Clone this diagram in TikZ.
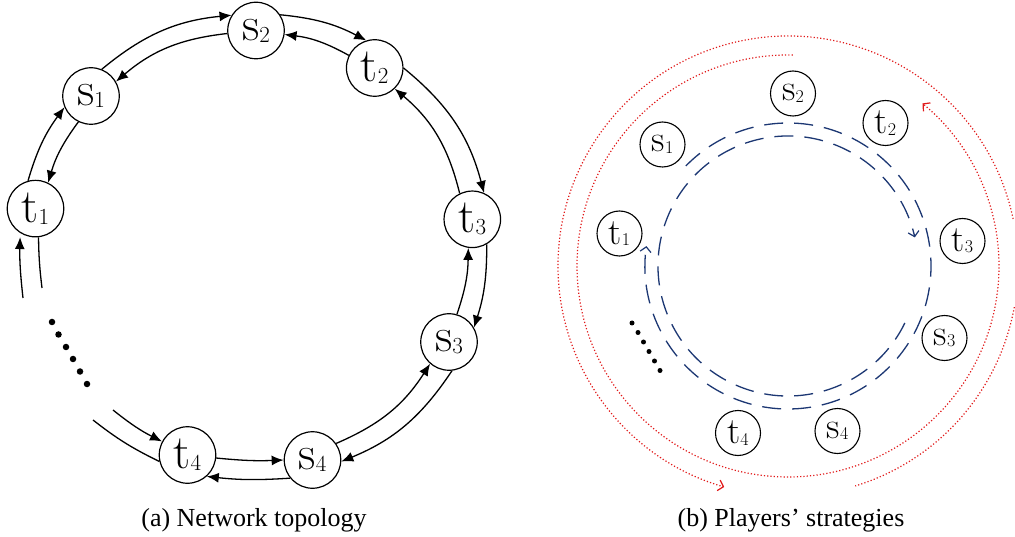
\documentclass[tikz,border=0pt]{standalone}
\usepackage{fontspec}
\newfontfamily\capfont{Liberation Serif}
\usetikzlibrary{arrows.meta}
\definecolor{navy}{RGB}{28,55,115}
\definecolor{dred}{RGB}{225,25,25}
\newcommand\biglab[2]{{\fontsize{48}{48}\selectfont #1}\raisebox{-2pt}{\fontsize{23}{23}\selectfont #2}}
\newcommand\smalllab[2]{{\fontsize{37}{37}\selectfont #1}\raisebox{-1.5pt}{\fontsize{18}{18}\selectfont #2}}
\begin{document}
\begin{tikzpicture}[x=1pt,y=1pt,
  bignode/.style={circle,draw,line width=1.2pt,minimum size=56.5pt,inner sep=0pt},
  smallnode/.style={circle,draw,line width=1.1pt,minimum size=45pt,inner sep=0pt},
  arr/.style={-{Latex[length=12pt,width=10pt]},line width=1.3pt},
  ln/.style={line width=1.3pt},
  bluepath/.style={draw=navy,line width=1.3pt,dash pattern=on 19pt off 11pt,-{Straight Barb[length=5pt,width=11pt,line width=1.2pt]}},
  redpath/.style={draw=dred,line width=1.2pt,dash pattern=on 1.2pt off 2.1pt},
  redarrow/.style={-{Straight Barb[length=5pt,width=11pt,line width=1.2pt]}},
  dotmark/.style={fill=black,draw=none,circle,inner sep=0pt,minimum size=6.5pt},
  dotsmall/.style={fill=black,draw=none,circle,inner sep=0pt,minimum size=5pt},
  caption/.style={font=\capfont\fontsize{26}{26}\selectfont,anchor=base}]
\useasboundingbox (0,0) rectangle (1015,-537);

% ---------- (a) Network topology ----------
\node[bignode] (s2) at (256,-30.5) {\biglab{s}{2}};
\node[bignode] (t2) at (374.7,-68) {\biglab{t}{2}};
\node[bignode] (s1) at (91,-96) {\biglab{s}{1}};
\node[bignode] (t1) at (35.5,-208.6) {\biglab{t}{1}};
\node[bignode] (t3) at (472.3,-219.3) {\biglab{t}{3}};
\node[bignode] (s3) at (449,-342) {\biglab{s}{3}};
\node[bignode] (s4) at (312.5,-460) {\biglab{s}{4}};
\node[bignode] (t4) at (187.5,-455) {\biglab{t}{4}};

\coordinate (a1) at (23,-298);
\coordinate (a2) at (42,-288);
\coordinate (a3) at (93,-420);
\coordinate (a4) at (113,-410);

% s1 - s2
\draw[arr] (s1.68) to[bend left=17] (s2.148);
\draw[arr] (s2.186) to[bend right=17] (s1.30);
% t1 - s1
\draw[arr] (t1.105) to[bend left=10] (s1.203);
\draw[arr] (s1.244) to[bend right=10] (t1.64);
% s2 - t2
\draw[arr] (s2.33) to[bend left=11] (t2.107);
\draw[arr] (t2.154) to[bend right=11] (s2.-8);
% t2 - t3
\draw[arr] (t2.0) to[bend left=18] (t3.66);
\draw[arr] (t3.116) to[bend right=18] (t2.-46);
% t3 - s3
\draw[arr] (t3.-60) to[bend left=9] (s3.30);
\draw[arr] (s3.74) to[bend right=9] (t3.-98);
% s3 - s4
\draw[arr] (s3.-84) to[bend left=17] (s4.-3);
\draw[arr] (s4.35) to[bend right=17] (s3.229);
% t4 - s4
\draw[arr] (t4.-6) to[bend right=4] (s4.180);
\draw[arr] (s4.219) to[bend left=5] (t4.-48);
% t4 - left free ends
\draw[arr] (a4) to[bend right=6] (t4.152);
\draw[ln] (t4.193) to[bend left=6] (a3);
% t1 - lower free ends
\draw[arr,shorten >=4pt] (a1) to[bend left=4] (t1.238);
\draw[ln] (t1.-84) to[bend right=3] (a2);

% dots
\foreach \x/\y [count=\i] in {52/322,58.5/334.5,66/347,73/359,80/371.5,87/384}
  \node[dotmark] (ld\i) at (\x,-\y) {};

\node[caption] (capa) at (254,-526) {(a) Network topology};

% ---------- (b) Players' strategies ----------
\coordinate (O) at (788,-266);

\draw[redpath,redarrow] ([shift={(88.7:211)}]O) arc[start angle=88.7,end angle=410.4,radius=211];
\draw[redpath,redarrow] ([shift={(11.8:230)}]O) arc[start angle=11.8,end angle=253.9,radius=230];
\draw[redpath] ([shift={(-10.3:230)}]O) arc[start angle=-10.3,end angle=-73,radius=230];

\draw[bluepath] ([shift={(135.6:143)}]O) arc[start angle=135.6,end angle=-188,radius=143];
\draw[bluepath] ([shift={(-26:130)}]O) arc[start angle=-26,end angle=-347.3,radius=130];

\node[smallnode] (rs2) at (793,-93.5) {\smalllab{s}{2}};
\node[smallnode] (rt2) at (885.5,-123) {\smalllab{t}{2}};
\node[smallnode] (rs1) at (662.5,-144.5) {\smalllab{s}{1}};
\node[smallnode] (rt1) at (619.5,-233.5) {\smalllab{t}{1}};
\node[smallnode] (rt3) at (962.5,-241) {\smalllab{t}{3}};
\node[smallnode] (rs3) at (944.5,-338) {\smalllab{s}{3}};
\node[smallnode] (rs4) at (837.5,-431) {\smalllab{s}{4}};
\node[smallnode] (rt4) at (738,-433) {\smalllab{t}{4}};

\foreach \x/\y [count=\i] in {632/323,638/332.5,643.5/342,649/351.5,654.5/361,660/370.5}
  \node[dotsmall] (rd\i) at (\x,-\y) {};

\node[caption] (capb) at (791,-526) {(b) Players’ strategies};
\end{tikzpicture}
\end{document}
